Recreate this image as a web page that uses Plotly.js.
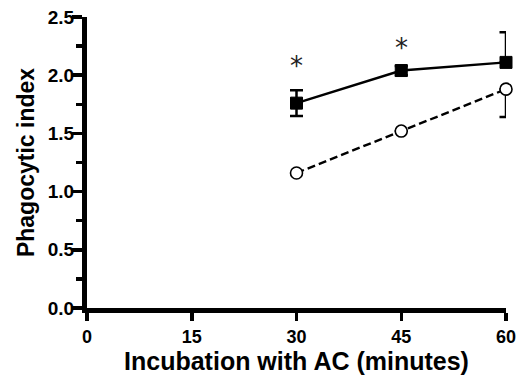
<!DOCTYPE html>
<html>
<head>
<meta charset="utf-8">
<script src="https://cdn.plot.ly/plotly-3.0.1.min.js"></script>
<style>html,body{margin:0;padding:0;background:#fff;}#chart{width:517px;height:376px;}</style>
</head>
<body>
<div id="chart"></div>
<script>
var times = [30, 45, 60];
var filledVals = [1.76, 2.04, 2.11];
var filledErrUp = [0.11, 0.04, 0.26];
var filledErrDown = [0.11, 0.04, 0];
var openVals = [1.16, 1.52, 1.88];
var openErrUp = [0, 0, 0];
var openErrDown = [0, 0, 0.24];
var starX = [30, 45];
var starY = [2.075, 2.23];
var xTicks = [0, 15, 30, 45, 60];
var yTicks = [0, 0.5, 1.0, 1.5, 2.0, 2.5];
var yTickText = ['0.0', '0.5', '1.0', '1.5', '2.0', '2.5'];

var FAM = 'Liberation Sans, Arial, sans-serif';

var traces = [
  {
    x: times, y: openVals, type: 'scatter', mode: 'lines+markers',
    line: {color: '#000', width: 2.4, dash: '8px,4px'},
    marker: {symbol: 'circle', size: 12, color: '#fff', line: {color: '#000', width: 1.6}},
    error_y: {type: 'data', symmetric: false, array: openErrUp, arrayminus: openErrDown, color: '#000', thickness: 2.5, width: 6.5},
    cliponaxis: false
  },
  {
    x: times, y: filledVals, type: 'scatter', mode: 'lines+markers',
    line: {color: '#000', width: 2.4},
    marker: {symbol: 'square', size: 12, color: '#000', line: {color: '#000', width: 1}},
    error_y: {type: 'data', symmetric: false, array: filledErrUp, arrayminus: filledErrDown, color: '#000', thickness: 2.5, width: 6.5},
    cliponaxis: false
  }
];

var annotations = starX.map(function(x, i) {
  return {x: x, y: starY[i], xref: 'x', yref: 'y', text: '*', showarrow: false,
    font: {family: 'DejaVu Sans', size: 26, color: '#222'}, yanchor: 'middle'};
});

var layout = {
  width: 517, height: 376,
  margin: {l: 87, r: 11, t: 17, b: 68},
  paper_bgcolor: '#fff', plot_bgcolor: '#fff',
  showlegend: false,
  font: {family: FAM, color: '#000'},
  xaxis: {
    range: [0, 60], tickvals: xTicks, ticktext: xTicks.map(function(v){return '<b>' + v + '</b>';}),
    showgrid: false, zeroline: false, showline: true, linecolor: '#000', linewidth: 5,
    ticks: 'outside', ticklen: 8, tickwidth: 3.5, tickcolor: '#000',
    ticklabeloverflow: 'allow',
    tickfont: {family: FAM, size: 18, color: '#000', weight: 700},
    title: {text: '<b>Incubation with AC (minutes)</b>', font: {family: FAM, size: 25, color: '#000', weight: 700}, standoff: 4}
  },
  yaxis: {
    range: [0, 2.5], tickvals: yTicks, ticktext: yTickText.map(function(v){return '<b>' + v + '</b>';}),
    showgrid: false, zeroline: false, showline: true, linecolor: '#000', linewidth: 5,
    ticks: 'outside', ticklen: 10, tickwidth: 3.5, tickcolor: '#000',
    ticklabelstandoff: -6,
    minor: {dtick: 0.25, ticks: 'outside', ticklen: 6, tickwidth: 3.5, tickcolor: '#000', showgrid: false},
    tickfont: {family: FAM, size: 19, color: '#000', weight: 700},
    title: {text: '<b>Phagocytic index</b>', font: {family: FAM, size: 23, color: '#000', weight: 700}, standoff: 8}
  },
  annotations: annotations
};

Plotly.newPlot('chart', traces, layout, {displayModeBar: false, staticPlot: true});
</script>
</body>
</html>
